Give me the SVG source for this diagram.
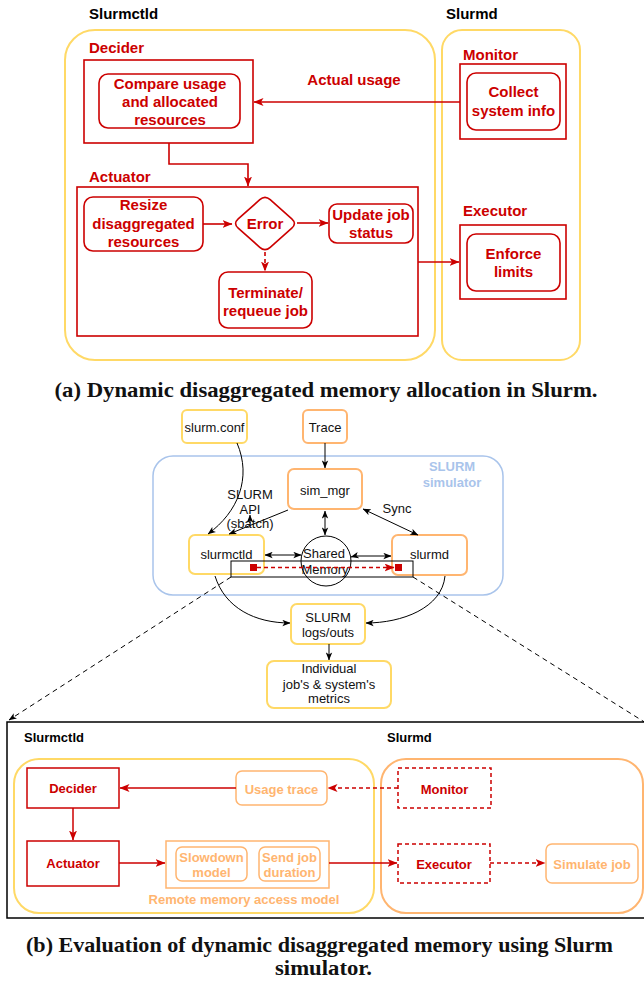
<svg xmlns="http://www.w3.org/2000/svg" width="644" height="987" viewBox="0 0 644 987">
<style>
text{font-family:"Liberation Sans",Arial,sans-serif}
.rt{font-size:15px;font-weight:bold;fill:#CC0000;text-anchor:middle}
.rl{font-size:15px;font-weight:bold;fill:#CC0000}
.bl{font-size:15px;font-weight:bold;fill:#000}
.rbox{fill:none;stroke:#CC0000;stroke-width:1.6}
.ybig{fill:none;stroke:#FFD966;stroke-width:2}
.mt{font-size:13px;fill:#111;text-anchor:middle}
.ybox{fill:#fff;stroke:#FFD966;stroke-width:2}
.obox{fill:#fff;stroke:#FFB570;stroke-width:2}
.blk{fill:none;stroke:#000;stroke-width:1}
.bt{font-size:13px;font-weight:bold;fill:#CC0000;text-anchor:middle}
.ot{font-size:13px;font-weight:bold;fill:#FFB570;text-anchor:middle}
.bk13{font-size:13px;font-weight:bold;fill:#000}
.lobox{fill:none;stroke:#FFB570;stroke-width:1.5}
.rb2{fill:none;stroke:#CC0000;stroke-width:1.5}
.rdash{fill:none;stroke:#CC0000;stroke-width:1.5;stroke-dasharray:4 3}
.cap{font-family:"Liberation Serif","Times New Roman",serif;font-size:21px;font-weight:bold;fill:#111;text-anchor:middle}
</style>
<defs>
<marker id="ar" viewBox="0 0 10 8" markerWidth="10" markerHeight="8" refX="9.5" refY="4" orient="auto-start-reverse" markerUnits="userSpaceOnUse"><path d="M0,0 L10,4 L0,8 L2.5,4 Z" fill="#CC0000"/></marker>
<marker id="ab" viewBox="0 0 10 8" markerWidth="8" markerHeight="7" refX="9.5" refY="4" orient="auto-start-reverse" markerUnits="userSpaceOnUse"><path d="M0,0 L10,4 L0,8 L2.5,4 Z" fill="#000"/></marker>
</defs>

<!-- (a) top diagram -->
<g id="slurmctld-a">
<text class="bl" x="89" y="19">Slurmctld</text>
<rect class="ybig" x="65" y="30" width="370" height="330" rx="30"/>
</g>
<g id="slurmd-a">
<text class="bl" x="446" y="19">Slurmd</text>
<rect class="ybig" x="442" y="30" width="138" height="330" rx="20"/>
</g>
<g id="decider-a">
<text class="rl" x="89" y="53">Decider</text>
<rect class="rbox" x="84" y="60" width="169" height="83"/>
</g>
<g id="compare">
<rect class="rbox" x="99" y="74" width="141" height="54" rx="9"/>
<text class="rt" x="170" y="89">Compare usage</text>
<text class="rt" x="170" y="107">and allocated</text>
<text class="rt" x="170" y="125">resources</text>
</g>
<g id="actuator-a">
<text class="rl" x="89" y="182">Actuator</text>
<rect class="rbox" x="77" y="187" width="341" height="149"/>
</g>
<g id="resize">
<rect class="rbox" x="84" y="197" width="119" height="54" rx="9"/>
<text class="rt" x="143.5" y="210">Resize</text>
<text class="rt" x="143.5" y="229">disaggregated</text>
<text class="rt" x="143.5" y="247">resources</text>
</g>
<g id="error">
<path class="rbox" d="M259.8,199.7 Q265,195 270.2,199.7 L291.8,218.8 Q297,223.5 291.8,228.2 L270.2,247.3 Q265,252 259.8,247.3 L238.2,228.2 Q233,223.5 238.2,218.8 Z"/>
<text class="rt" x="265" y="229">Error</text>
</g>
<g id="update">
<rect class="rbox" x="329" y="204" width="84" height="39" rx="8"/>
<text class="rt" x="371" y="220">Update job</text>
<text class="rt" x="371" y="238">status</text>
</g>
<g id="terminate">
<rect class="rbox" x="219" y="272" width="93" height="56" rx="9"/>
<text class="rt" x="265.5" y="298">Terminate/</text>
<text class="rt" x="265.5" y="316">requeue job</text>
</g>
<g id="monitor-a">
<text class="rl" x="463" y="60">Monitor</text>
<rect class="rbox" x="460" y="64" width="106" height="75"/>
<rect class="rbox" x="467" y="73" width="93" height="57" rx="9"/>
<text class="rt" x="513.5" y="97">Collect</text>
<text class="rt" x="513.5" y="116">system info</text>
</g>
<g id="executor-a">
<text class="rl" x="463" y="216">Executor</text>
<rect class="rbox" x="460" y="225" width="106" height="74"/>
<rect class="rbox" x="467" y="234" width="93" height="57" rx="9"/>
<text class="rt" x="513.5" y="259">Enforce</text>
<text class="rt" x="513.5" y="277">limits</text>
</g>
<g id="connectors-a" fill="none" stroke="#CC0000" stroke-width="1.6">
<path d="M460,102 H254" marker-end="url(#ar)"/>
<path d="M169,143 V164 H248 V186" marker-end="url(#ar)"/>
<path d="M203,224 H232" marker-end="url(#ar)"/>
<path d="M297,223 H328" marker-end="url(#ar)"/>
<path d="M265,252 V271" stroke-dasharray="4 3" marker-end="url(#ar)"/>
<path d="M418,262 H459" marker-end="url(#ar)"/>
</g>
<text class="rt" x="354" y="85">Actual usage</text>
<text class="cap" x="326" y="397" textLength="543" lengthAdjust="spacingAndGlyphs">(a) Dynamic disaggregated memory allocation in Slurm.</text>

<!-- (b) middle simulator -->
<g id="simulator">
<rect x="153" y="456" width="350" height="139" rx="20" fill="none" stroke="#A9C4EB" stroke-width="1.5"/>
<text x="452" y="471" font-size="13" font-weight="bold" fill="#A9C4EB" text-anchor="middle">SLURM</text>
<text x="452" y="487" font-size="13" font-weight="bold" fill="#A9C4EB" text-anchor="middle">simulator</text>
</g>
<g id="slurmconf">
<rect class="ybox" x="182" y="410" width="65" height="33" rx="5"/>
<text class="mt" x="214.5" y="432">slurm.conf</text>
</g>
<g id="trace">
<rect class="obox" x="303" y="410" width="44" height="33" rx="5"/>
<text class="mt" x="325" y="432">Trace</text>
</g>
<g id="simmgr">
<rect class="obox" x="288" y="469" width="74" height="40" rx="6"/>
<text class="mt" x="325" y="495">sim_mgr</text>
</g>
<g id="slurmctld-b">
<rect class="ybox" x="189" y="535" width="75" height="39" rx="6"/>
<text class="mt" x="226.5" y="559">slurmctld</text>
</g>
<g id="slurmd-b">
<rect class="obox" x="392" y="535" width="75" height="40" rx="6"/>
<text class="mt" x="429.5" y="559">slurmd</text>
</g>
<g id="shared">
<circle cx="326" cy="561" r="25" fill="none" stroke="#000" stroke-width="1"/>
<text class="mt" x="324" y="558">Shared</text>
<text class="mt" x="325" y="574">Memory</text>
</g>
<g id="zoomrect">
<rect class="blk" x="231" y="561" width="182" height="16" stroke-width="1.2"/>
<rect x="250" y="564" width="7" height="7" fill="#CC0000"/>
<rect x="395" y="564" width="7" height="7" fill="#CC0000"/>
</g>
<g id="logs">
<rect class="ybox" x="291" y="604" width="74" height="40" rx="6"/>
<text class="mt" x="328" y="622">SLURM</text>
<text class="mt" x="328" y="637">logs/outs</text>
</g>
<g id="metrics">
<rect class="ybox" x="267" y="661" width="124" height="47" rx="7"/>
<text class="mt" x="329" y="673">Individual</text>
<text class="mt" x="329" y="689">job's &amp; system's</text>
<text class="mt" x="329" y="703">metrics</text>
</g>
<g id="connectors-b" fill="none" stroke="#000" stroke-width="1">
<path d="M237,443 C252,478 238,512 208,534" marker-end="url(#ab)"/>
<path d="M325,443 V468" marker-end="url(#ab)"/>
<path d="M288,510 L229,534" marker-end="url(#ab)"/>
<path d="M250,523 V515" marker-end="url(#ab)"/>
<path d="M325,511 V535" marker-start="url(#ab)" marker-end="url(#ab)"/>
<path d="M363,509 L418,535" marker-start="url(#ab)" marker-end="url(#ab)"/>
<path d="M265,555 H301" marker-start="url(#ab)" marker-end="url(#ab)"/>
<path d="M351,557 L355,556 H391" marker-start="url(#ab)" marker-end="url(#ab)"/>
<path d="M215,576 C225,608 255,623 290,623" marker-end="url(#ab)"/>
<path d="M445,576 C442,608 402,623 366,623" marker-end="url(#ab)"/>
<path d="M329,644 V660" marker-end="url(#ab)"/>
<path d="M231,577 L9,720" stroke-dasharray="5 4" marker-end="url(#ab)"/>
<path d="M413,577 L646,723" stroke-dasharray="5 4"/>
<path d="M257,567.5 H394" stroke="#CC0000" stroke-width="1.3" stroke-dasharray="4 3" marker-end="url(#ar)"/>
</g>
<text class="mt" x="250" y="499">SLURM</text>
<text class="mt" x="250" y="514">API</text>
<text class="mt" x="250" y="528">(sbatch)</text>
<text class="mt" x="397" y="513">Sync</text>

<!-- (b) bottom detail -->
<g id="detail">
<rect x="7" y="722" width="645" height="196" fill="none" stroke="#000" stroke-width="1.5"/>
<text class="bk13" x="24" y="742">Slurmctld</text>
<text class="bk13" x="387" y="742">Slurmd</text>
</g>
<g id="ctld-container">
<rect class="ybig" x="14" y="759" width="360" height="154" rx="25"/>
</g>
<g id="slurmd-container">
<rect x="381" y="759" width="262" height="154" rx="25" fill="none" stroke="#FFB570" stroke-width="2"/>
</g>
<g id="decider-b">
<rect class="rb2" x="27" y="768" width="92" height="40"/>
<text class="bt" x="73" y="793">Decider</text>
</g>
<g id="actuator-b">
<rect class="rb2" x="27" y="841" width="92" height="45"/>
<text class="bt" x="73" y="868">Actuator</text>
</g>
<g id="usagetrace">
<rect class="lobox" x="236" y="771" width="91" height="34" rx="6"/>
<text class="ot" x="281.5" y="794">Usage trace</text>
</g>
<g id="remote">
<rect class="lobox" x="166" y="841" width="163" height="47"/>
<text class="ot" x="244" y="904">Remote memory access model</text>
</g>
<g id="slowdown">
<rect class="lobox" x="176" y="847" width="71" height="34" rx="6"/>
<text class="ot" x="211.5" y="862">Slowdown</text>
<text class="ot" x="211.5" y="877">model</text>
</g>
<g id="sendjob">
<rect class="lobox" x="259" y="847" width="61" height="34" rx="6"/>
<text class="ot" x="289.5" y="862">Send job</text>
<text class="ot" x="289.5" y="877">duration</text>
</g>
<g id="monitor-b">
<rect class="rdash" x="398" y="768" width="93" height="40"/>
<text class="bt" x="444.5" y="794">Monitor</text>
</g>
<g id="executor-b">
<rect class="rdash" x="398" y="844" width="92" height="39"/>
<text class="bt" x="444" y="869">Executor</text>
</g>
<g id="simulatejob">
<rect class="lobox" x="546" y="844" width="92" height="39" rx="6"/>
<text class="ot" x="592" y="869">Simulate job</text>
</g>
<g id="connectors-c" fill="none" stroke="#CC0000" stroke-width="1.5">
<path d="M236,788 H120" marker-end="url(#ar)"/>
<path d="M73,808 V840" marker-end="url(#ar)"/>
<path d="M119,863 H165" marker-end="url(#ar)"/>
<path d="M329,863 H397" marker-end="url(#ar)"/>
<path d="M398,788 H328" stroke-dasharray="4 3" marker-end="url(#ar)"/>
<path d="M490,863 H545" stroke-dasharray="4 3" marker-end="url(#ar)"/>
</g>
<text class="cap" x="319.5" y="952" textLength="587" lengthAdjust="spacingAndGlyphs">(b) Evaluation of dynamic disaggregated memory using Slurm</text>
<text class="cap" x="323.5" y="975" textLength="97" lengthAdjust="spacingAndGlyphs">simulator.</text>
</svg>
